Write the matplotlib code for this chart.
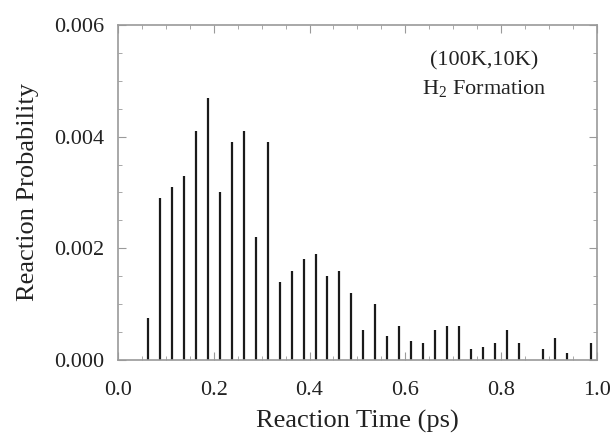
import matplotlib
matplotlib.use('Agg')
import matplotlib.pyplot as plt
from matplotlib.ticker import MultipleLocator

plt.rcParams['font.family'] = ['Liberation Serif', 'DejaVu Serif']

# bin centres (ps) and probabilities
t = [0.0625, 0.0875, 0.1125, 0.1375, 0.1625, 0.1875, 0.2125, 0.2375, 0.2625, 0.2875,
     0.3125, 0.3375, 0.3625, 0.3875, 0.4125, 0.4375, 0.4625, 0.4875, 0.5125, 0.5375,
     0.5625, 0.5875, 0.6125, 0.6375, 0.6625, 0.6875, 0.7125, 0.7375, 0.7625, 0.7875,
     0.8125, 0.8375, 0.8875, 0.9125, 0.9375, 0.9875]
prob = [0.00075, 0.0029, 0.0031, 0.0033, 0.0041, 0.0047, 0.0030, 0.0039, 0.0041, 0.0022,
        0.0039, 0.0014, 0.0016, 0.0018, 0.0019, 0.0015, 0.0016, 0.0012, 0.00054, 0.0010,
        0.00042, 0.00061, 0.00034, 0.00031, 0.00053, 0.00061, 0.00061, 0.00019, 0.00023, 0.00031,
        0.00053, 0.00030, 0.00020, 0.00040, 0.00012, 0.00030]

fig = plt.figure(figsize=(6.11, 4.41), dpi=100)
ax = fig.add_axes([0.193, 0.184, 0.784, 0.759])

ax.vlines(t, 0, prob, color='#1a1a1a', linewidth=1.6)

ax.set_xlim(0, 1.0)
ax.set_ylim(0, 0.006)
ax.xaxis.set_major_locator(MultipleLocator(0.2))
ax.xaxis.set_minor_locator(MultipleLocator(0.05))
ax.yaxis.set_major_locator(MultipleLocator(0.002))
ax.yaxis.set_minor_locator(MultipleLocator(0.0005))
ax.xaxis.set_major_formatter(plt.FormatStrFormatter('%.1f'))
ax.yaxis.set_major_formatter(plt.FormatStrFormatter('%.3f'))

for s in ax.spines.values():
    s.set_color('#9a9a9a')
    s.set_linewidth(1.2)
ax.tick_params(which='both', direction='in', top=True, right=True, colors='#9a9a9a',
               labelcolor='#222222', labelsize=16)
ax.tick_params(which='major', length=6)
ax.tick_params(which='minor', length=3)
ax.tick_params(axis='x', which='major', pad=15)
ax.tick_params(axis='y', which='major', pad=10)

ax.set_xlabel('Reaction Time (ps)', fontsize=19, color='#222222', labelpad=7)
ax.set_ylabel('Reaction Probability', fontsize=19, color='#222222', labelpad=11)

ax.text(0.765, 0.0051, '(100K,10K)\n$\\mathregular{H_2}$ Formation', fontsize=16,
        color='#222222', ha='center', va='center', linespacing=1.5)

fig.savefig('out.png', dpi=100)
